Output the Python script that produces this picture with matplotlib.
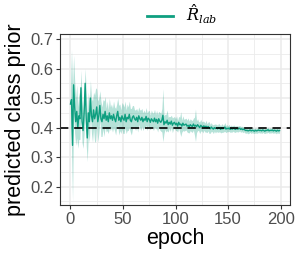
import matplotlib
matplotlib.use("Agg")
import matplotlib.pyplot as plt
import numpy as np

plt.rcParams['font.family'] = ['Liberation Sans', 'DejaVu Sans']
plt.rcParams['mathtext.fontset'] = 'dejavuserif'

epochs = list(range(200))

mean_prior = [
    0.480, 0.495, 0.340, 0.545, 0.470, 0.420, 0.455, 0.400, 0.440, 0.430,
    0.535, 0.420, 0.390, 0.450, 0.550, 0.430, 0.365, 0.450, 0.420, 0.500,
    0.440, 0.420, 0.460, 0.430, 0.445, 0.470, 0.420, 0.440, 0.475, 0.430,
    0.420, 0.445, 0.430, 0.455, 0.425, 0.440, 0.420, 0.450, 0.430, 0.440,
    0.425, 0.445, 0.430, 0.420, 0.440, 0.455, 0.425, 0.435, 0.420, 0.440,
    0.430, 0.425, 0.445, 0.420, 0.435, 0.430, 0.445, 0.425, 0.420, 0.435,
    0.440, 0.430, 0.425, 0.435, 0.420, 0.440, 0.430, 0.425, 0.435, 0.420,
    0.430, 0.425, 0.438, 0.420, 0.432, 0.428, 0.418, 0.430, 0.425, 0.420,
    0.432, 0.420, 0.428, 0.415, 0.430, 0.422, 0.418, 0.425, 0.442, 0.410,
    0.420, 0.415, 0.425, 0.410, 0.418, 0.412, 0.422, 0.408, 0.415, 0.418,
    0.410, 0.415, 0.405, 0.418, 0.410, 0.412, 0.405, 0.415, 0.408, 0.410,
    0.412, 0.405, 0.408, 0.402, 0.410, 0.406, 0.404, 0.412, 0.405, 0.408,
    0.403, 0.410, 0.405, 0.400, 0.408, 0.404, 0.402, 0.406, 0.400, 0.405,
    0.398, 0.404, 0.400, 0.396, 0.402, 0.398, 0.395, 0.400, 0.397, 0.399,
    0.396, 0.400, 0.398, 0.394, 0.399, 0.396, 0.398, 0.402, 0.395, 0.398,
    0.396, 0.399, 0.394, 0.397, 0.395, 0.398, 0.396, 0.394, 0.397, 0.395,
    0.396, 0.398, 0.394, 0.396, 0.393, 0.395, 0.392, 0.390, 0.391, 0.389,
    0.390, 0.392, 0.389, 0.391, 0.390, 0.388, 0.391, 0.389, 0.390, 0.392,
    0.390, 0.391, 0.389, 0.392, 0.390, 0.388, 0.391, 0.390, 0.393, 0.389,
    0.391, 0.390, 0.392, 0.389, 0.391, 0.390, 0.388, 0.391, 0.389, 0.390,
]

sd_prior = [
    0.050, 0.170, 0.190, 0.100, 0.090, 0.080, 0.090, 0.070, 0.080, 0.070,
    0.060, 0.070, 0.060, 0.070, 0.050, 0.090, 0.080, 0.070, 0.070, 0.060,
    0.060, 0.070, 0.060, 0.080, 0.090, 0.060, 0.070, 0.060, 0.050, 0.060,
    0.050, 0.050, 0.060, 0.050, 0.040, 0.050, 0.040, 0.050, 0.040, 0.040,
    0.040, 0.045, 0.040, 0.045, 0.040, 0.045, 0.050, 0.045, 0.040, 0.045,
    0.050, 0.045, 0.045, 0.040, 0.045, 0.040, 0.045, 0.040, 0.045, 0.040,
    0.035, 0.030, 0.035, 0.030, 0.035, 0.030, 0.030, 0.035, 0.030, 0.030,
    0.030, 0.025, 0.030, 0.030, 0.025, 0.030, 0.025, 0.030, 0.025, 0.030,
    0.030, 0.025, 0.030, 0.030, 0.025, 0.030, 0.030, 0.040, 0.090, 0.030,
    0.025, 0.030, 0.035, 0.025, 0.020, 0.025, 0.020, 0.025, 0.020, 0.020,
    0.020, 0.025, 0.020, 0.020, 0.025, 0.042, 0.020, 0.025, 0.020, 0.020,
    0.020, 0.020, 0.025, 0.020, 0.020, 0.020, 0.020, 0.020, 0.030, 0.055,
    0.020, 0.020, 0.015, 0.020, 0.020, 0.015, 0.020, 0.015, 0.015, 0.020,
    0.015, 0.015, 0.020, 0.015, 0.015, 0.012, 0.015, 0.012, 0.015, 0.012,
    0.012, 0.015, 0.012, 0.012, 0.015, 0.012, 0.012, 0.015, 0.012, 0.012,
    0.010, 0.012, 0.010, 0.012, 0.010, 0.010, 0.012, 0.010, 0.010, 0.010,
    0.010, 0.009, 0.010, 0.009, 0.010, 0.009, 0.010, 0.009, 0.009, 0.010,
    0.009, 0.008, 0.009, 0.008, 0.009, 0.008, 0.009, 0.008, 0.009, 0.008,
    0.009, 0.008, 0.009, 0.008, 0.009, 0.008, 0.009, 0.008, 0.009, 0.008,
    0.009, 0.008, 0.009, 0.008, 0.009, 0.008, 0.009, 0.008, 0.009, 0.008,
]

true_prior = 0.4
series_label = r'$\hat{R}_{lab}$'
x_ticks = [0, 50, 100, 150, 200]
y_ticks = [0.2, 0.3, 0.4, 0.5, 0.6, 0.7]

color = "#0E9F80"

fig = plt.figure(figsize=(2.99, 2.57), dpi=100)
ax = fig.add_axes([60/299, 1-205/257, 230/299, 171/257])

m = np.array(mean_prior)
s = np.array(sd_prior)
ax.fill_between(epochs, m - s, m + s, color=color, alpha=0.3, linewidth=0)
ax.plot(epochs, m, color=color, linewidth=1.0, label=series_label)
ax.axhline(true_prior, color="black", linewidth=1.2, linestyle=(0, (5, 3.5)))

ax.set_xlim(-9.95, 208.95)
ax.set_ylim(0.138, 0.717)
ax.set_xticks(x_ticks)
ax.set_yticks(y_ticks)
ax.set_yticklabels([f"{v:.1f}" for v in y_ticks])
ax.set_xticks([25, 75, 125, 175], minor=True)
ax.set_yticks([0.15, 0.25, 0.35, 0.45, 0.55, 0.65], minor=True)
ax.grid(True, which="major", color="#EBEBEB", linewidth=1.1)
ax.grid(True, which="minor", color="#EBEBEB", linewidth=0.6)
ax.set_axisbelow(True)
ax.tick_params(which="minor", length=0)
ax.tick_params(which="major", length=3, width=0.8, color="#333333",
               labelcolor="#4D4D4D", labelsize=12, pad=2)
for sp in ax.spines.values():
    sp.set_color("#333333")
    sp.set_linewidth(0.8)

ax.set_xlabel("epoch", fontsize=15.5, labelpad=1)
ax.set_ylabel("predicted class prior", fontsize=15.5, labelpad=3)

leg = ax.legend(loc="lower center", bbox_to_anchor=(0.53, 1.0), frameon=False,
                fontsize=11.5, handlelength=1.6, borderaxespad=0.1)
for h in leg.get_lines():
    h.set_linewidth(2)

fig.savefig("out.png", dpi=100)
